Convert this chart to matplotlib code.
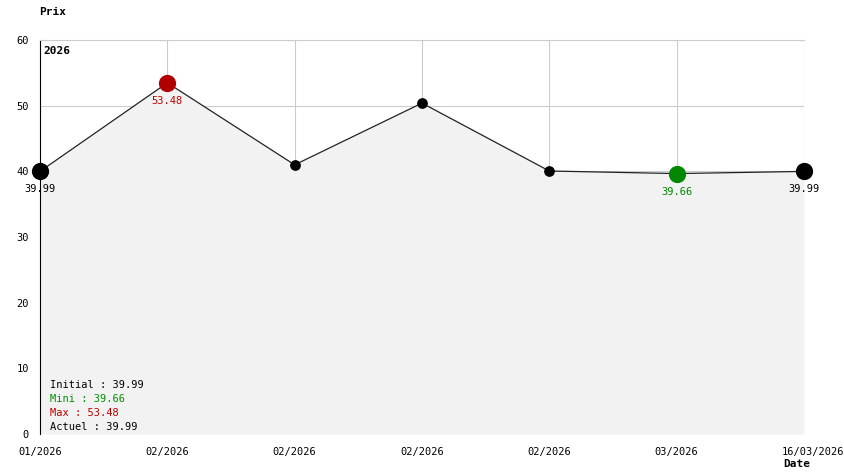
import matplotlib
matplotlib.use("Agg")
import matplotlib.pyplot as plt
import matplotlib.transforms as mtransforms

dates = ["01/2026", "02/2026", "02/2026", "02/2026", "02/2026", "03/2026", "16/03/2026"]
prices = [39.99, 53.48, 40.99, 50.39, 40.05, 39.66, 39.99]
yticks = [0, 10, 20, 30, 40, 50, 60]
legend_lines = [("Initial : 39.99", "black"), ("Mini : 39.66", "#009000"),
                ("Max : 53.48", "#c00000"), ("Actuel : 39.99", "black")]

W, H = 844, 474
fig = plt.figure(figsize=(W / 100, H / 100), dpi=100)
ax = fig.add_axes([40 / W, 40 / H, 764 / W, 394 / H])
mono = "DejaVu Sans Mono"
fs = 7.5

x = list(range(len(prices)))
ax.set_xlim(0, len(prices) - 1)
ax.set_ylim(0, 60)
ax.set_yticks(yticks)
ax.set_xticks(x)
ax.set_xticklabels(dates, fontsize=fs, family=mono)
ax.set_yticklabels([str(v) for v in yticks], fontsize=fs, family=mono)
ax.tick_params(length=0)
ax.tick_params(axis="x", pad=9)
ax.tick_params(axis="y", pad=8)
last = ax.get_xticklabels()[-1]
last.set_transform(last.get_transform() + mtransforms.ScaledTranslation(9 / 100, 0, fig.dpi_scale_trans))
ax.grid(True, color="#cccccc", linewidth=0.8, zorder=0)
ax.set_axisbelow(True)
for s in ["right", "bottom"]:
    ax.spines[s].set_visible(False)
ax.spines["top"].set_color("#cccccc")
ax.spines["top"].set_linewidth(0.8)
ax.spines["left"].set_color("black")

ax.fill_between(x, prices, 0, color="#f2f2f2", zorder=1, linewidth=0)
ax.plot(x, prices, color="#222222", linewidth=0.9, zorder=2)

imax = prices.index(max(prices))
imin = prices.index(min(prices))
small = [i for i in x if i not in (0, imax, imin, len(x) - 1)]
ax.scatter(small, [prices[i] for i in small], s=45, color="black", zorder=3, clip_on=False)
big = [(0, "black"), (len(x) - 1, "black"), (imax, "#b00000"), (imin, "#008800")]
for i, c in big:
    ax.scatter([i], [prices[i]], s=130, color=c, zorder=4, clip_on=False)
    tc = "#c00000" if i == imax else ("#008800" if i == imin else "black")
    ax.annotate(f"{prices[i]:.2f}", (i, prices[i]), xytext=(0, -13), textcoords="offset points",
                ha="center", va="center", fontsize=fs, family=mono, color=tc, zorder=5)

ax.text(0.004, 0.985, "2026", transform=ax.transAxes, ha="left", va="top",
        fontsize=fs + 0.5, family=mono, fontweight="bold")
fig.text(39 / W, 1 - 12 / H, "Prix", ha="left", va="center", fontsize=fs + 0.5,
         family=mono, fontweight="bold")
fig.text(797 / W, 1 - 464 / H, "Date", ha="center", va="center", fontsize=fs + 0.5,
         family=mono, fontweight="bold")

y0 = 385
for k, (t, c) in enumerate(legend_lines):
    fig.text(50 / W, 1 - (y0 + k * 14) / H, t, ha="left", va="center",
             fontsize=fs, family=mono, color=c)

fig.savefig("out.png", dpi=100)
